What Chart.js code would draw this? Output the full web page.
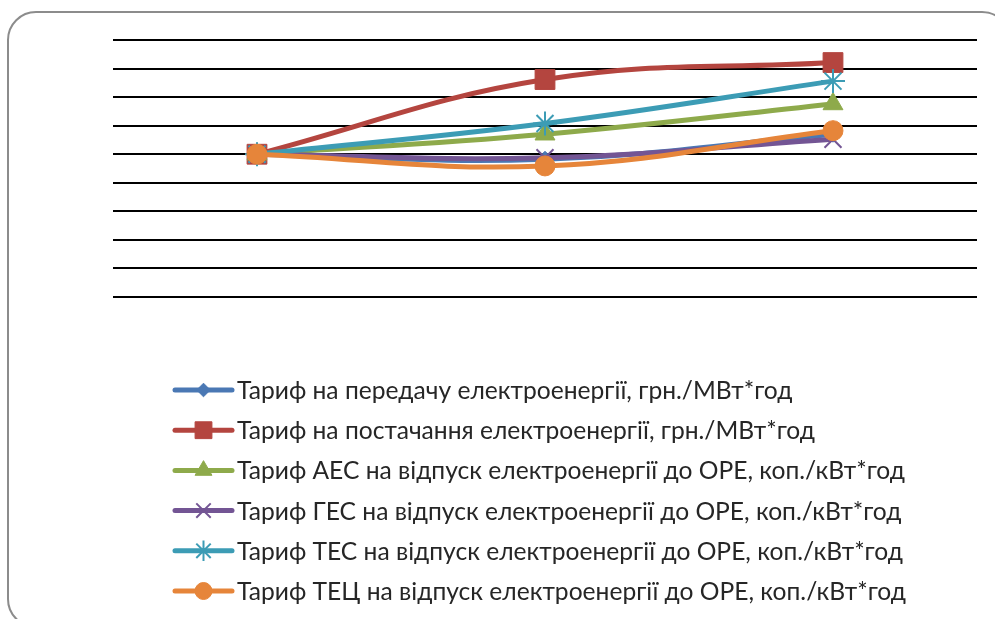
<!DOCTYPE html>
<html>
<head>
<meta charset="utf-8">
<script src="https://cdn.jsdelivr.net/npm/chart.js@4/dist/chart.umd.min.js"></script>
<style>
  html, body { margin: 0; padding: 0; background: #fff; }
  #wrap { width: 995px; height: 619px; position: relative; }
</style>
</head>
<body>
<div id="wrap"><canvas id="c" width="995" height="619"></canvas></div>
<script>
// Three reporting periods, each tariff expressed relative to the first one
const periods = ['1', '2', '3'];

const seriesNames = [
  'Тариф на передачу електроенергії, грн./МВт*год',
  'Тариф на постачання електроенергії, грн./МВт*год',
  'Тариф АЕС на відпуск електроенергії до ОРЕ, коп./кВт*год',
  'Тариф ГЕС на відпуск електроенергії до ОРЕ, коп./кВт*год',
  'Тариф ТЕС на відпуск електроенергії до ОРЕ, коп./кВт*год',
  'Тариф ТЕЦ на відпуск електроенергії до ОРЕ, коп./кВт*год'
];

const transmission = [1.0, 0.965, 1.14];
const supply       = [1.0, 1.523, 1.642];
const nuclear      = [1.0, 1.14, 1.352];
const hydro        = [1.0, 0.975, 1.105];
const thermal      = [1.0, 1.215, 1.512];
const chp          = [1.0, 0.918, 1.165];

const yTicks = { min: 0, max: 1.8, step: 0.2 };

const colors  = ['#4A78B4', '#B4453F', '#8EAA4B', '#735594', '#3C9CB5', '#E6853A'];
const styles  = ['rectRot', 'rect', 'triangle', 'crossRot', 'star', 'circle'];
const radii   = [8, 14, 11.5, 12, 12, 10];
const values  = [transmission, supply, nuclear, hydro, thermal, chp];

const datasets = values.map((v, i) => ({
  label: seriesNames[i],
  data: v,
  borderColor: colors[i],
  backgroundColor: colors[i],
  borderWidth: 5,
  tension: 0.4,
  pointStyle: styles[i],
  pointRadius: radii[i],
  pointHoverRadius: radii[i],
  pointBackgroundColor: colors[i],
  pointBorderColor: colors[i],
  pointBorderWidth: (styles[i] === 'crossRot' || styles[i] === 'star') ? 2 : 1,
  order: values.length - 1 - i,
  clip: false
}));

// Rounded outer frame of the chart object
const framePlugin = {
  id: 'frame',
  beforeDraw(chart) {
    const ctx = chart.ctx;
    ctx.save();
    ctx.strokeStyle = '#8c8c8c';
    ctx.lineWidth = 2;
    ctx.beginPath();
    ctx.roundRect(8, 12, 1002, 615, 28);
    ctx.stroke();
    ctx.restore();
  }
};

// Legend stacked under the plot: line sample with its marker, then the text
const legendPlugin = {
  id: 'stackedLegend',
  afterDraw(chart) {
    const ctx = chart.ctx;
    const x0 = 175, x1 = 232, tx = 237, y0 = 390, dy = 40.2;
    ctx.save();
    chart.data.datasets.forEach((ds, i) => {
      const y = y0 + i * dy;
      ctx.strokeStyle = ds.borderColor;
      ctx.lineWidth = 5;
      ctx.lineCap = 'round';
      ctx.beginPath();
      ctx.moveTo(x0, y);
      ctx.lineTo(x1, y);
      ctx.stroke();
      ctx.fillStyle = ds.pointBackgroundColor;
      ctx.strokeStyle = ds.pointBorderColor;
      ctx.lineWidth = ds.pointBorderWidth;
      ctx.lineCap = 'butt';
      Chart.helpers.drawPoint(ctx, {
        pointStyle: ds.pointStyle,
        radius: ds.pointRadius * 0.85,
        rotation: 0,
        borderWidth: ds.pointBorderWidth
      }, (x0 + x1) / 2, y);
      ctx.fillStyle = '#262626';
      ctx.font = '24.6px Lato, "Open Sans", sans-serif';
      ctx.textBaseline = 'middle';
      ctx.textAlign = 'left';
      ctx.fillText(ds.label, tx, y + 1);
    });
    ctx.restore();
  }
};

new Chart(document.getElementById('c'), {
  type: 'line',
  data: { labels: periods, datasets },
  plugins: [framePlugin, legendPlugin],
  options: {
    responsive: false,
    animation: false,
    events: [],
    layout: { padding: { left: 113, right: 18, top: 40, bottom: 322 } },
    plugins: { legend: { display: false }, tooltip: { enabled: false } },
    scales: {
      x: {
        display: false,
        offset: true
      },
      y: {
        min: yTicks.min,
        max: yTicks.max,
        ticks: { display: false, stepSize: yTicks.step },
        grid: { color: '#000', lineWidth: 2, drawTicks: false },
        border: { display: false }
      }
    }
  }
});
</script>
</body>
</html>
